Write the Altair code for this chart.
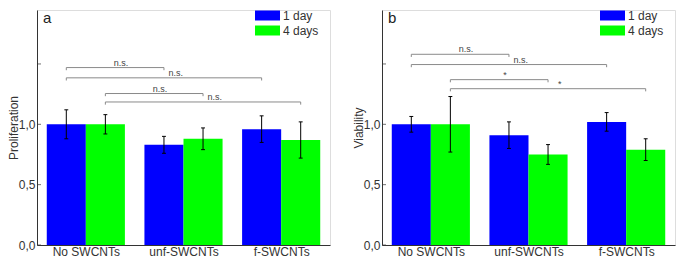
import json
import altair as alt
import pandas as pd

# ---------------- data ----------------
categories = ["No SWCNTs", "unf-SWCNTs", "f-SWCNTs"]
series = ["1 day", "4 days"]
series_colors = ["#0000ff", "#00ff00"]

prolif_1day = [1.00, 0.83, 0.96]
prolif_1day_err = [0.12, 0.07, 0.11]
prolif_4days = [1.00, 0.88, 0.87]
prolif_4days_err = [0.08, 0.09, 0.15]

viab_1day = [1.00, 0.91, 1.02]
viab_1day_err = [0.065, 0.11, 0.077]
viab_4days = [1.00, 0.75, 0.79]
viab_4days_err = [0.23, 0.082, 0.09]

# significance brackets (from group, to group, series, height, label)
bracket_from = ["No SWCNTs", "No SWCNTs", "No SWCNTs", "No SWCNTs"]
bracket_to = ["unf-SWCNTs", "f-SWCNTs", "unf-SWCNTs", "f-SWCNTs"]
bracket_series = ["1 day", "1 day", "4 days", "4 days"]
prolif_bracket_level = [1.47, 1.385, 1.255, 1.185]
prolif_bracket_label = ["n.s.", "n.s.", "n.s.", "n.s."]
viab_bracket_level = [1.58, 1.495, 1.37, 1.295]
viab_bracket_label = ["n.s.", "n.s.", "*", "*"]

y_ticks = [0.0, 0.5, 1.0, 1.5]

# ---------------- styling ----------------
FONT = "Liberation Sans"
TXT = "#333333"
LINE = "#333333"
PW, PH = 293, 235
YMAX = 1.947
BAR_W = 0.4


def bars_frame(v1, e1, v4, e4):
    rows = []
    for ci, cat in enumerate(categories):
        for si, (vals, errs) in enumerate([(v1, e1), (v4, e4)]):
            rows.append({"cat": cat, "ci": ci, "series": series[si], "si": si,
                         "value": vals[ci], "err": errs[ci]})
    return pd.DataFrame(rows)


def brackets_frame(levels, labels):
    rows = []
    for a, b, s, lv, lb in zip(bracket_from, bracket_to, bracket_series, levels, labels):
        rows.append({"ca": categories.index(a), "cb": categories.index(b),
                     "si": series.index(s), "level": lv, "label": lb})
    return pd.DataFrame(rows)


x_scale = alt.Scale(domain=[-0.5, 2.5], nice=False, zero=False)
y_scale = alt.Scale(domain=[0, YMAX], nice=False, zero=True)

x_axis = alt.Axis(values=[0, 1, 2], labelExpr=f"{json.dumps(categories)}[datum.value]",
                  title=None, ticks=False, grid=False, labelFontSize=12, labelPadding=1,
                  labelColor=TXT, domainColor=LINE, labelFont=FONT)


def y_axis(title):
    return alt.Axis(values=y_ticks,
                    labelExpr="datum.value <= 1 ? replace(format(datum.value, '.1f'), '.', ',') : ''",
                    title=title, grid=False, ticks=False, minExtent=0,
                    labelPadding=2, labelFontSize=12, labelColor=TXT, labelFont=FONT,
                    titleFontSize=12, titleFontWeight="normal", titleColor=TXT, titleFont=FONT,
                    titlePadding=-2, domainColor=LINE)


def panel(v1, e1, v4, e4, levels, labels, ytitle, letter):
    df = bars_frame(v1, e1, v4, e4)
    bdf = brackets_frame(levels, labels)

    base = alt.Chart(df).transform_calculate(
        x0=f"datum.ci - {BAR_W} + {BAR_W} * datum.si",
        x1=f"datum.ci + {BAR_W} * datum.si",
        xc=f"datum.ci - {BAR_W / 2} + {BAR_W} * datum.si",
        lo="datum.value - datum.err",
        hi="datum.value + datum.err",
        cl=f"datum.ci - {BAR_W / 2} + {BAR_W} * datum.si - 0.02",
        cr=f"datum.ci - {BAR_W / 2} + {BAR_W} * datum.si + 0.02",
    )

    bars = base.mark_rect().encode(
        x=alt.X("x0:Q", scale=x_scale, axis=x_axis),
        x2="x1:Q",
        y=alt.Y("value:Q", scale=y_scale, axis=y_axis(ytitle)),
        y2=alt.datum(0),
        color=alt.Color("series:N", scale=alt.Scale(domain=series, range=series_colors),
                        legend=alt.Legend(title=None, orient="none", legendX=224, legendY=-1,
                                          symbolType="M-2,-0.8H2V0.8H-2Z", symbolSize=156.25,
                                          symbolStrokeWidth=0, symbolOpacity=1,
                                          labelFontSize=12, labelColor=TXT, labelFont=FONT,
                                          labelOffset=9, rowPadding=2, padding=0)),
    )

    # inward-pointing y ticks (share the y axis of the bars)
    ticks = alt.Chart(pd.DataFrame({"value": y_ticks})).mark_tick(
        size=4, thickness=1, color=LINE).encode(
        y=alt.Y("value:Q", scale=y_scale, axis=y_axis(ytitle)), x=alt.value(2))

    err_v = base.mark_rule(color="#000000", strokeWidth=1).encode(
        x="xc:Q", y="lo:Q", y2="hi:Q")
    cap_lo = base.mark_rule(color="#000000", strokeWidth=1).encode(
        x="cl:Q", x2="cr:Q", y="lo:Q")
    cap_hi = base.mark_rule(color="#000000", strokeWidth=1).encode(
        x="cl:Q", x2="cr:Q", y="hi:Q")

    bbase = alt.Chart(bdf).transform_calculate(
        xa=f"datum.ca - {BAR_W / 2} + {BAR_W} * datum.si",
        xb=f"datum.cb - {BAR_W / 2} + {BAR_W} * datum.si",
    ).transform_calculate(
        xl="(datum.xa + datum.xb) / 2 + 0.06 * (datum.xb - datum.xa)",
        down="datum.level - 0.022",
    )
    GRAY = "#8a8a8a"
    br_h = bbase.mark_rule(color=GRAY, strokeWidth=1).encode(
        x="xa:Q", x2="xb:Q", y="level:Q")
    br_a = bbase.mark_rule(color=GRAY, strokeWidth=1).encode(
        x="xa:Q", y="level:Q", y2="down:Q")
    br_b = bbase.mark_rule(color=GRAY, strokeWidth=1).encode(
        x="xb:Q", y="level:Q", y2="down:Q")
    br_t = bbase.mark_text(fontSize=9, color="#444444", font=FONT, baseline="alphabetic",
                           dy=-2).encode(x="xl:Q", y="level:Q", text="label:N")

    tag = alt.Chart(pd.DataFrame({"t": [letter]})).mark_text(
        fontSize=15, color="#222222", font=FONT, align="left", baseline="alphabetic"
    ).encode(x=alt.value(6), y=alt.value(13), text="t:N")

    return alt.layer(bars, ticks, err_v, cap_lo, cap_hi, br_h, br_a, br_b, br_t, tag).properties(
        width=PW, height=PH)


left = panel(prolif_1day, prolif_1day_err, prolif_4days, prolif_4days_err,
             prolif_bracket_level, prolif_bracket_label, "Proliferation", "a")
right = panel(viab_1day, viab_1day_err, viab_4days, viab_4days_err,
              viab_bracket_level, viab_bracket_label, "Viability", "b")

chart = alt.hconcat(left, right, spacing=20).resolve_legend(color="independent").resolve_scale(
    color="independent").properties(
    padding={"left": -2, "top": 0, "right": 0, "bottom": 0}).configure_view(
    stroke=LINE, strokeWidth=1).configure(font=FONT)

chart.save("out.html", embed_options={"renderer": "svg", "actions": False})
